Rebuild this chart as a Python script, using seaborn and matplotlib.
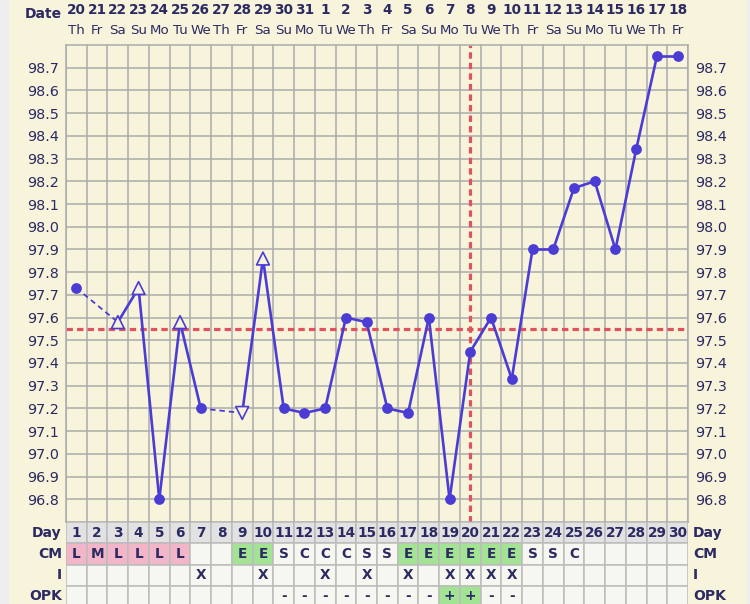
import matplotlib
matplotlib.use("Agg")
import matplotlib.pyplot as plt
import matplotlib.transforms as mtransforms
from matplotlib.patches import Rectangle
import numpy as np
import pandas as pd
import seaborn as sns

sns.set_theme(style="white")
plt.rcParams["font.family"] = ["DejaVu Sans"]

# ---- chart data ----
cycle_days = list(range(1, 31))
dates = [20, 21, 22, 23, 24, 25, 26, 27, 28, 29, 30, 31,
         1, 2, 3, 4, 5, 6, 7, 8, 9, 10, 11, 12, 13, 14, 15, 16, 17, 18]
weekdays = ["Th", "Fr", "Sa", "Su", "Mo", "Tu", "We"] * 4 + ["Th", "Fr"]
temps = [97.73, None, 97.58, 97.73, 96.80, 97.58, 97.20, None, 97.18, 97.86,
         97.20, 97.18, 97.20, 97.60, 97.58, 97.20, 97.18, 97.60, 96.80, 97.45,
         97.60, 97.33, 97.90, 97.90, 98.17, 98.20, 97.90, 98.34, 98.75, 98.75]
temp_marks = ["o", "", "^", "^", "o", "^", "o", "", "v", "^"] + ["o"] * 20
cm = ["L", "M", "L", "L", "L", "L", "", "", "E", "E",
      "S", "C", "C", "C", "S", "S", "E", "E", "E", "E",
      "E", "E", "S", "S", "C", "", "", "", "", ""]
intercourse = ["", "", "", "", "", "", "X", "", "", "X",
               "", "", "X", "", "X", "", "X", "", "X", "X",
               "X", "X", "", "", "", "", "", "", "", ""]
opk = ["", "", "", "", "", "", "", "", "", "",
       "-", "-", "-", "-", "-", "-", "-", "-", "+", "+",
       "-", "-", "", "", "", "", "", "", "", ""]
coverline = 97.55
ovulation_day = 20

# ---- colours ----
cream = "#f8f4dc"
navy = "#2b2a62"
blue = "#4a3cd4"
red = "#e0535e"
grid_c = "#ababab"
pink = "#f2b6c8"
green = "#a2e494"
cell_c = "#f7f7f1"
day_c = "#e2e2e2"

W, H = 750, 604
fig = plt.figure(figsize=(7.5, 6.04), dpi=100)
fig.patch.set_facecolor(cream)
fig.add_artist(Rectangle((0, 0), 8 / W, 1, transform=fig.transFigure,
                         color="#eeeeee", zorder=0))
fig.add_artist(Rectangle((747 / W, 0), 3 / W, 1, transform=fig.transFigure,
                         color="#eeeeee", zorder=0))

ax = fig.add_axes([66 / W, 1 - 522 / H, 622 / W, 477 / H])
tbl = fig.add_axes([66 / W, 1 - 607 / H, 622 / W, 85 / H])

# ---- temperature panel ----
ax.set_facecolor(cream)
yt = np.round(np.arange(96.8, 98.71, 0.1), 1)
ax.set_yticks(yt)
ax.set_yticklabels([f"{v:.1f}" for v in yt])
ax.set_xticks([])
ax.set_xticks(np.arange(0.5, 31, 1), minor=True)
ax.tick_params(axis="x", which="both", length=0, labelbottom=False)
ax.tick_params(axis="y", which="both", length=0, labelsize=10.4,
               labelcolor=navy, pad=5, labelleft=True, labelright=True)
ax.grid(True, which="minor", axis="x", color=grid_c, lw=1.1)
ax.grid(True, which="major", axis="y", color=grid_c, lw=1.1)
ax.set_axisbelow(True)
for sp in ax.spines.values():
    sp.set_color(grid_c)
    sp.set_linewidth(1.1)

df = pd.DataFrame({"day": cycle_days, "temp": temps, "mark": temp_marks})
df = df.dropna(subset=["temp"]).reset_index(drop=True)

# split into solid runs of consecutive days and dashed gap bridges
solid_rows, gap_rows = [], []
for k in range(len(df) - 1):
    a, b = df.iloc[k], df.iloc[k + 1]
    rows = solid_rows if b.day - a.day == 1 else gap_rows
    rows.append({"day": a.day, "temp": a.temp, "seg": k})
    rows.append({"day": b.day, "temp": b.temp, "seg": k})
solid_df = pd.DataFrame(solid_rows)
gap_df = pd.DataFrame(gap_rows)

ax.axhline(coverline, color=red, lw=2.3, dashes=(2, 1.3), zorder=1.5)
ax.axvline(ovulation_day, color=red, lw=2.3, dashes=(2, 1.3), zorder=1.5)

sns.lineplot(data=solid_df, x="day", y="temp", units="seg", estimator=None,
             sort=False, color=blue, lw=1.9, ax=ax, zorder=2)
sns.lineplot(data=gap_df, x="day", y="temp", units="seg", estimator=None,
             sort=False, color=blue, lw=1.3, dashes=(3, 2.2), ax=ax, zorder=2)
sns.scatterplot(data=df[df["mark"] == "o"], x="day", y="temp", color=blue,
                s=60, linewidth=0, ax=ax, zorder=3)
sns.scatterplot(data=df[df["mark"] != "o"], x="day", y="temp", style="mark",
                markers={"^": "^", "v": "v"}, color=cream, edgecolor=blue,
                linewidth=1.2, s=85, legend=False, ax=ax, zorder=3)
ax.set_xlabel("")
ax.set_ylabel("")
ax.set_xlim(0.5, 30.5)
ax.set_ylim(96.7, 98.8)

# ---- header (dates / weekdays) ----
hdr = mtransforms.blended_transform_factory(ax.transData, fig.transFigure)
ax.text(0.3, 1 - 14 / H, "Date", transform=hdr, ha="right", va="center",
        fontsize=10, fontweight="bold", color=navy)
for d, dt, wd in zip(cycle_days, dates, weekdays):
    ax.text(d, 1 - 10 / H, str(dt), transform=hdr, ha="center", va="center",
            fontsize=9.8, fontweight="bold", color=navy)
    ax.text(d, 1 - 31 / H, wd, transform=hdr, ha="center", va="center",
            fontsize=9.6, color=navy)

# ---- table rows ----
tbl.set_xlim(0.5, 30.5)
tbl.set_ylim(4, 0)
tbl.axis("off")
rows = [
    ("Day", [str(d) for d in cycle_days], [day_c] * 30),
    ("CM", cm, [pink if c in ("L", "M") else green if c == "E" else cell_c for c in cm]),
    ("I", intercourse, [cell_c] * 30),
    ("OPK", opk, [green if o == "+" else cell_c for o in opk]),
]
for r, (label, vals, cols) in enumerate(rows):
    tbl.bar(cycle_days, 1, width=1, bottom=r, color=cols,
            edgecolor="#bcbcbc", linewidth=1.1)
    for d, v in zip(cycle_days, vals):
        if v:
            tbl.text(d, r + 0.5, v, ha="center", va="center", fontsize=9.8,
                     fontweight="bold", color=navy)
    tbl.text(0.3, r + 0.5, label, ha="right", va="center", fontsize=10,
             fontweight="bold", color=navy)
    tbl.text(30.75, r + 0.5, label, ha="left", va="center", fontsize=10,
             fontweight="bold", color=navy)

fig.savefig("out.png", dpi=100, facecolor=fig.get_facecolor())
